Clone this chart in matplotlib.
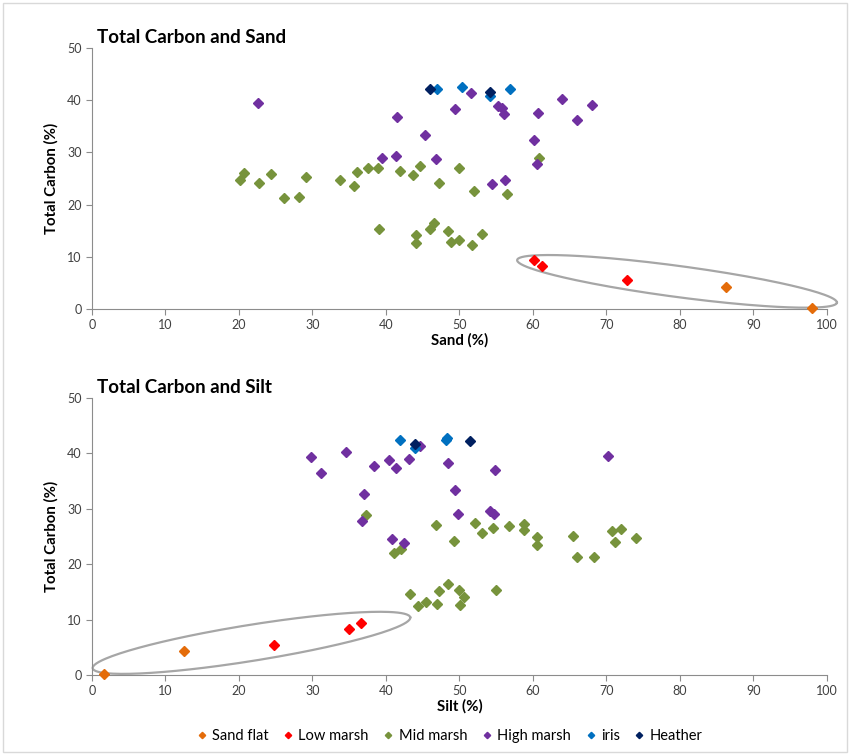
import matplotlib.pyplot as plt
import numpy as np
from matplotlib.patches import Rectangle

plt.rcParams['font.family'] = ['Lato', 'DejaVu Sans']

# series names and colours
groups = ['Sand flat', 'Low marsh', 'Mid marsh', 'High marsh', 'iris', 'Heather']
colors = ['#E46C0A', '#FF0000', '#77933C', '#7030A0', '#0070C0', '#002060']

# --- top chart: sand vs total carbon
sand_flat_sand = [86.2, 97.9]
sand_flat_c1 = [4.3, 0.1]
low_sand = [60.1, 61.2, 72.8]
low_c1 = [9.45, 8.2, 5.6]
mid_sand = [20.1, 20.7, 22.7, 24.4, 26.1, 28.2, 29.1, 33.8, 35.6, 36.0, 37.6, 38.9,
            41.9, 43.7, 44.6, 47.2, 49.9, 39.0, 44.1, 44.1, 46.5, 46.0, 48.5, 48.8,
            50.0, 51.7, 53.0, 52.0, 56.4, 60.8]
mid_c1 = [24.8, 26.1, 24.1, 25.9, 21.3, 21.5, 25.2, 24.8, 23.5, 26.2, 27.1, 27.0,
          26.5, 25.6, 27.4, 24.1, 27.1, 15.3, 14.2, 12.6, 16.5, 15.3, 15.0, 12.8,
          13.2, 12.3, 14.4, 22.7, 22.0, 28.9]
high_sand = [22.6, 41.5, 45.3, 39.4, 41.4, 46.8, 49.4, 51.6, 55.3, 55.8, 56.1, 60.7,
             63.9, 66.0, 68.0, 60.1, 60.5, 54.4, 56.2]
high_c1 = [39.4, 36.8, 33.3, 29.0, 29.4, 28.8, 38.3, 41.3, 38.9, 38.6, 37.3, 37.6,
           40.2, 36.3, 39.1, 32.4, 27.8, 24.0, 24.7]
iris_sand = [47.0, 50.4, 54.1, 56.9]
iris_c1 = [42.1, 42.6, 40.8, 42.1]
heather_sand = [46.0, 54.1]
heather_c1 = [42.1, 41.5]

# --- bottom chart: silt vs total carbon
sand_flat_silt = [1.6, 12.5]
sand_flat_c2 = [0.2, 4.3]
low_silt = [24.8, 35.0, 36.6]
low_c2 = [5.4, 8.25, 9.4]
mid_silt = [37.3, 41.1, 42.0, 46.8, 49.3, 43.3, 44.3, 45.5, 47.0, 47.2, 48.5, 49.9,
            50.6, 50.1, 52.1, 53.1, 54.5, 56.8, 58.8, 58.8, 60.5, 60.5, 65.4, 66.0,
            68.3, 70.8, 71.1, 72.0, 74.0, 55.0]
mid_c2 = [28.9, 22.1, 22.8, 27.1, 24.1, 14.6, 12.4, 13.2, 12.8, 15.1, 16.5, 15.4,
          14.1, 12.6, 27.4, 25.6, 26.5, 26.9, 27.2, 26.1, 24.9, 23.5, 25.1, 21.3,
          21.3, 25.9, 24.0, 26.3, 24.7, 15.3]
high_silt = [29.8, 31.2, 34.6, 38.4, 40.4, 41.3, 43.1, 44.6, 48.4, 37.0, 36.7, 49.4,
             49.8, 40.8, 42.4, 54.8, 70.2, 54.1, 54.7]
high_c2 = [39.3, 36.4, 40.3, 37.7, 38.8, 37.4, 39.0, 41.4, 38.3, 32.6, 27.8, 33.4,
           29.0, 24.6, 23.9, 37.0, 39.6, 29.6, 29.1]
iris_silt = [41.9, 44.0, 48.1, 48.3]
iris_c2 = [42.4, 40.9, 42.5, 42.7]
heather_silt = [44.0, 51.4]
heather_c2 = [41.6, 42.2]

top_series = [(sand_flat_sand, sand_flat_c1), (low_sand, low_c1), (mid_sand, mid_c1),
              (high_sand, high_c1), (iris_sand, iris_c1), (heather_sand, heather_c1)]
bot_series = [(sand_flat_silt, sand_flat_c2), (low_silt, low_c2), (mid_silt, mid_c2),
              (high_silt, high_c2), (iris_silt, iris_c2), (heather_silt, heather_c2)]

grey = '#8C8C8C'

fig = plt.figure(figsize=(8.5, 7.55), dpi=100)
fig.patches.append(Rectangle((0.004, 0.004), 0.992, 0.992, transform=fig.transFigure,
                             fill=False, edgecolor='#D9D9D9', linewidth=1))


def style_axes(ax, title, xlabel):
    ax.set_xlim(0, 100)
    ax.set_ylim(0, 50)
    ax.set_xticks(range(0, 101, 10))
    ax.set_yticks(range(0, 51, 10))
    for s in ['top', 'right']:
        ax.spines[s].set_visible(False)
    for s in ['left', 'bottom']:
        ax.spines[s].set_color(grey)
    ax.tick_params(direction='out', length=4, color=grey, labelsize=9, labelcolor='#404040')
    ax.set_xlabel(xlabel, fontsize=10.8, fontweight='bold', labelpad=1)
    ax.set_ylabel('Total Carbon (%)', fontsize=10.8, fontweight='bold', labelpad=6)
    ax.text(0.007, 1.008, title, transform=ax.transAxes, fontsize=13.5, fontweight='bold',
            ha='left', va='bottom')


def ring(ax, center, major, minor):
    t = np.linspace(0, 2 * np.pi, 200)
    x = center[0] + major[0] * np.cos(t) + minor[0] * np.sin(t)
    y = center[1] + major[1] * np.cos(t) + minor[1] * np.sin(t)
    ax.plot(x, y, color='#A6A6A6', lw=1.6, clip_on=False, zorder=1)


ax1 = fig.add_axes([0.1082, 0.5907, 0.8647, 0.3457])
for (xs, ys), name, c in zip(top_series, groups, colors):
    ax1.plot(xs, ys, 'D', color=c, ms=4.6, label=name, clip_on=False, zorder=3)
style_axes(ax1, 'Total Carbon and Sand', 'Sand (%)')
ring(ax1, (79.6, 5.3), (21.75, -4.09), (-0.3, -2.95))

ax2 = fig.add_axes([0.1082, 0.1060, 0.8647, 0.3669])
for (xs, ys), name, c in zip(bot_series, groups, colors):
    ax2.plot(xs, ys, 'D', color=c, ms=4.6, label=name, clip_on=False, zorder=3)
style_axes(ax2, 'Total Carbon and Silt', 'Silt (%)')
ring(ax2, (21.7, 5.8), (21.6, 4.6), (-0.45, 3.2))

fig.legend(*ax2.get_legend_handles_labels(), loc='center', bbox_to_anchor=(0.528, 0.025),
           ncol=6, frameon=False, fontsize=10.5, markerscale=0.7, handlelength=0.9,
           handletextpad=0.25, columnspacing=0.9)

plt.savefig('out.png', dpi=100)
plt.close()
